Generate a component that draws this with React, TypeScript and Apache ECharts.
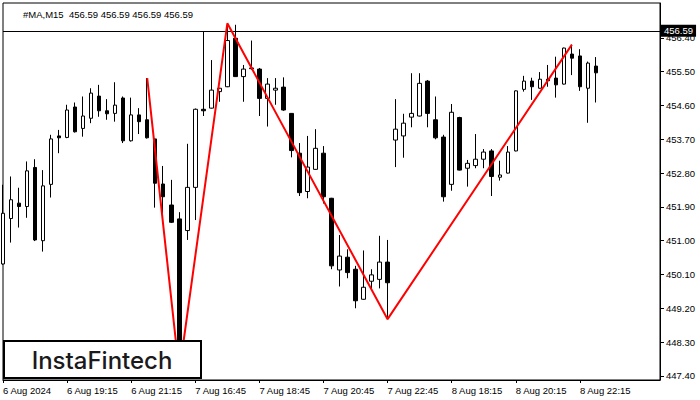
import React, { useEffect, useRef } from "react";
import * as echarts from "echarts";

const barSlots = 83;
const tickLabels: [number, string][] = [
  [0, "6 Aug 2024"],
  [8, "6 Aug 19:15"],
  [16, "6 Aug 21:15"],
  [24, "7 Aug 16:45"],
  [32, "7 Aug 18:45"],
  [40, "7 Aug 20:45"],
  [48, "7 Aug 22:45"],
  [56, "8 Aug 18:15"],
  [64, "8 Aug 20:15"],
  [72, "8 Aug 22:15"],
];
const yTicks = [447.4, 448.3, 449.2, 450.1, 451.0, 451.9, 452.8, 453.7, 454.6, 455.5, 456.4];

const opens = [
  450.38, 451.59, 452.0, 451.91, 452.95, 451.0, 452.5, 453.79, 453.75, 454.56,
  453.99, 454.26, 454.85, 454.46, 454.39, 454.8, 453.66, 454.35, 454.22, 453.71,
  452.51, 451.95, 451.58, 451.27, 452.42, 454.5, 454.53, 454.97, 455.1, 456.39,
  455.37, 455.58, 455.57, 454.79, 455.01, 455.09, 454.39, 453.33, 452.31, 452.9,
  453.33, 452.13, 450.22, 450.56, 450.24, 449.44, 449.92, 449.97, 450.43, 453.68,
  453.79, 454.29, 454.32, 455.25, 454.22, 453.76, 452.5, 454.28, 452.93, 453.0,
  453.17, 453.39, 452.69, 452.8, 453.39, 455.03, 455.25, 455.06, 455.3, 455.33,
  455.17, 455.97, 455.92, 455.06, 455.65,
];
const highs = [
  452.49, 452.71, 452.41, 453.11, 453.17, 452.88, 453.82, 453.95, 454.62, 454.68,
  454.84, 455.06, 455.15, 454.77, 455.22, 454.84, 454.81, 454.53, 455.33, 453.72,
  452.99, 452.62, 451.76, 453.58, 454.52, 456.57, 455.81, 455.07, 456.79, 456.75,
  455.68, 456.33, 455.6, 455.33, 455.33, 455.35, 454.4, 453.6, 453.79, 453.97,
  453.52, 452.14, 451.15, 450.77, 450.33, 450.74, 450.24, 451.13, 451.02, 454.77,
  454.38, 455.46, 455.46, 455.28, 454.84, 453.82, 454.64, 454.3, 453.15, 453.84,
  453.44, 453.44, 453.13, 453.52, 455.0, 455.39, 455.34, 455.49, 455.68, 455.9,
  456.14, 456.22, 456.1, 455.77, 455.89,
];
const lows = [
  450.36, 450.95, 451.35, 451.61, 450.99, 450.71, 452.15, 453.33, 453.73, 453.88,
  453.77, 454.13, 454.3, 454.22, 454.17, 453.6, 453.64, 453.84, 453.72, 451.88,
  451.73, 451.47, 447.49, 451.02, 451.55, 454.32, 454.52, 454.7, 455.09, 455.36,
  454.7, 455.55, 454.32, 454.04, 454.62, 454.46, 453.22, 452.19, 452.13, 452.89,
  451.99, 450.24, 449.78, 450.0, 449.2, 449.43, 449.69, 449.73, 448.91, 452.96,
  453.21, 454.02, 454.31, 454.02, 453.7, 452.04, 452.33, 452.87, 452.44, 452.93,
  452.93, 452.19, 452.6, 452.79, 453.38, 454.97, 454.75, 455.05, 455.1, 454.81,
  455.16, 455.41, 454.99, 454.14, 454.68,
];
const closes = [
  451.73, 452.09, 451.91, 452.86, 451.02, 452.46, 453.71, 453.74, 454.48, 453.9,
  454.32, 454.93, 454.46, 454.38, 454.61, 453.66, 454.35, 454.17, 453.74, 452.53,
  452.17, 451.49, 447.7, 452.42, 454.5, 454.46, 455.01, 455.06, 456.33, 455.37,
  455.57, 455.6, 454.79, 455.17, 455.06, 454.48, 453.4, 452.28, 452.96, 453.46,
  452.17, 450.33, 450.59, 450.15, 449.4, 449.76, 450.09, 450.43, 449.88, 453.97,
  454.13, 454.39, 455.19, 454.39, 453.74, 452.17, 454.42, 452.88, 453.06, 453.17,
  453.36, 452.71, 452.75, 453.36, 454.99, 455.25, 455.1, 455.3, 455.26, 455.15,
  456.13, 455.86, 455.1, 455.73, 455.47,
];

const zigzagIdx = [18, 22, 28, 48, 71];
const zigzagPrice = [455.33, 447.49, 456.79, 448.91, 456.22];
const lastPrice = 456.59;
const titleText = "#MA,M15  456.59 456.59 456.59 456.59";
const logoText = "InstaFintech";

const FONT = "Liberation Sans";

export default function App() {
  const ref = useRef<HTMLDivElement>(null);
  useEffect(() => {
    if (!ref.current) return;
    const chart = echarts.init(ref.current, undefined, { renderer: "svg" });
    const labelMap = new Map<number, string>(tickLabels);
    const categories = Array.from({ length: barSlots }, (_, i) => String(i));
    const candles = opens.map((o, i) => [o, closes[i], lows[i], highs[i]]);
    const zigzag = zigzagIdx.map((x, i) => [x, zigzagPrice[i]]);

    chart.setOption({
      animation: false,
      backgroundColor: "#fff",
      title: {
        text: titleText,
        left: 18,
        top: 4,
        textStyle: { fontSize: 9.5, fontWeight: "normal", color: "#000", fontFamily: FONT },
      },
      grid: {
        left: 3,
        right: 40,
        top: 3,
        bottom: 20,
        show: true,
        borderColor: "#000",
        borderWidth: 1,
        containLabel: false,
      },
      xAxis: {
        type: "category",
        boundaryGap: false,
        data: categories,
        axisLine: { show: true, lineStyle: { color: "#000", width: 1 } },
        axisTick: {
          show: true,
          interval: (i: number) => labelMap.has(i),
          length: 3,
          lineStyle: { color: "#000" },
        },
        axisLabel: {
          interval: (i: number) => labelMap.has(i),
          formatter: (_v: string, i: number) => labelMap.get(i) ?? "",
          align: "left",
          margin: 5,
          fontSize: 9.5,
          color: "#000",
          fontFamily: FONT,
        },
        splitLine: { show: false },
      },
      yAxis: {
        type: "value",
        position: "right",
        min: 447.29,
        max: 457.33,
        scale: true,
        splitLine: { show: false },
        axisLine: { show: true, lineStyle: { color: "#000" } },
        axisTick: { show: true, customValues: yTicks, length: 4, lineStyle: { color: "#000" } },
        axisLabel: {
          customValues: yTicks,
          formatter: (v: number) => v.toFixed(2),
          margin: 6,
          fontSize: 9.5,
          color: "#000",
          fontFamily: FONT,
        },
      },
      series: [
        {
          type: "candlestick",
          data: candles,
          barWidth: 4,
          itemStyle: {
            color: "#fff",
            color0: "#000",
            borderColor: "#000",
            borderColor0: "#000",
            borderColorDoji: "#000",
            borderWidth: 1,
          },
          markLine: {
            silent: true,
            symbol: ["none", "none"],
            data: [{ yAxis: lastPrice }],
            lineStyle: { color: "#000", width: 1, type: "solid" },
            label: {
              show: true,
              position: "end",
              distance: 1,
              formatter: lastPrice.toFixed(2),
              backgroundColor: "#000",
              color: "#fff",
              padding: [1, 3, 1, 3],
              fontSize: 9.5,
              fontFamily: FONT,
            },
          },
        },
        {
          type: "line",
          data: zigzag,
          symbol: "none",
          z: 5,
          lineStyle: { color: "#ff0000", width: 2 },
        },
      ],
      graphic: [
        {
          type: "rect",
          z: 100,
          zlevel: 0,
          shape: { x: 4, y: 341, width: 197, height: 37 },
          style: { fill: "#fff", stroke: "#000", lineWidth: 2 },
        },
        {
          type: "text",
          z: 101,
          zlevel: 0,
          x: 102,
          y: 360,
          style: {
            text: logoText,
            fill: "#1a1a1a",
            font: "500 24px Inter",
            align: "center",
            verticalAlign: "middle",
          },
        },
      ],
    });
    return () => chart.dispose();
  }, []);
  return (
    <div
      ref={ref}
      style={{ position: "fixed", left: 0, top: 0, width: 700, height: 400 }}
    />
  );
}
